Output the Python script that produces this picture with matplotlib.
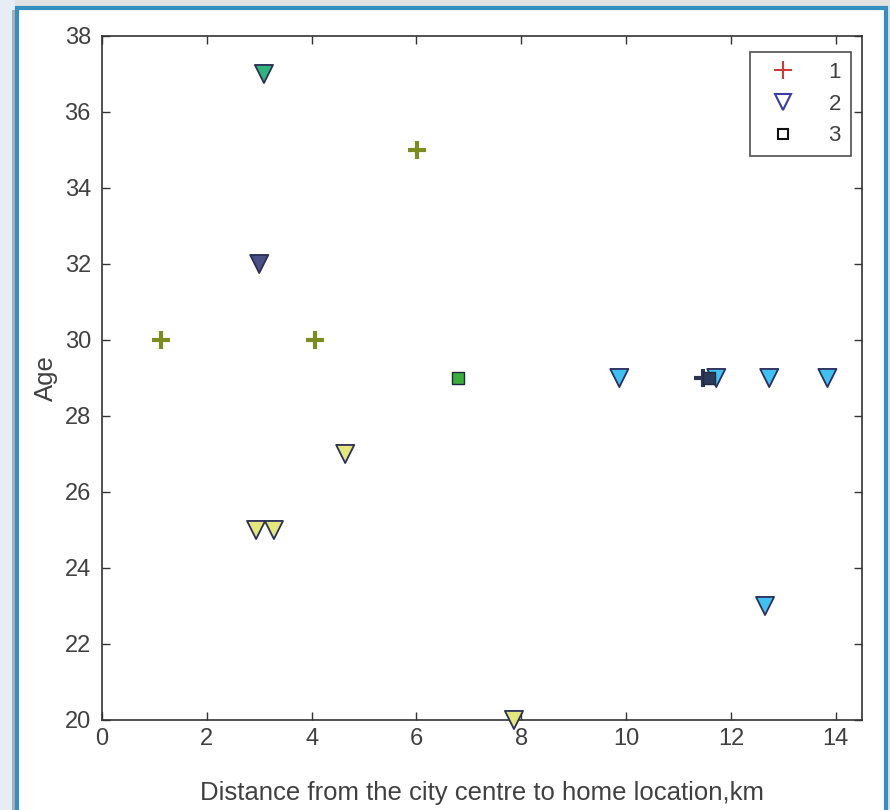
import numpy as np
import matplotlib.pyplot as plt
from matplotlib.lines import Line2D
from matplotlib.patches import Rectangle

plt.rcParams['font.family'] = ['Liberation Sans', 'DejaVu Sans']

# group 1 (+)
g1_x = [1.13, 4.06, 6.01, 11.47]
g1_y = [30, 30, 35, 29]
g1_c = ['#7d8c1e', '#7d8c1e', '#7d8c1e', '#2c3450']

# group 2 (triangles)
g2_x = [3.09, 3.0, 2.94, 3.28, 4.64, 7.86, 9.87, 11.72, 12.73, 13.84, 12.65]
g2_y = [37, 32, 25, 25, 27, 20, 29, 29, 29, 29, 23]
g2_c = ['#2fb57c', '#4a4f86', '#e4e77a', '#e4e77a', '#e4e77a', '#e4e77a',
        '#3fc2f2', '#3fc2f2', '#3fc2f2', '#3fc2f2', '#3fc2f2']

# group 3 (squares)
g3_x = [6.79, 11.58]
g3_y = [29, 29]
g3_c = ['#3aae3a', '#2c3a5a']

labels = ['1', '2', '3']

fig = plt.figure(figsize=(8.9, 8.1), dpi=100)
fig.patch.set_facecolor('#e2e2e2')

# bluish shadow on the left, then the white card with a blue border
fig.patches.append(Rectangle((0, 0), 15/890, 1, transform=fig.transFigure,
                             facecolor='#e6edf4', edgecolor='none', zorder=-12))
fig.patches.append(Rectangle((12/890, 0), 4/890, 1 - 10/810, transform=fig.transFigure,
                             facecolor='#a9b0b8', edgecolor='none', zorder=-11))
card = Rectangle((17/890, -0.02), (886-17)/890, 1.02 - 8/810,
                 transform=fig.transFigure, facecolor='white',
                 edgecolor='#3590c2', linewidth=3, zorder=-10)
fig.patches.append(card)

ax = fig.add_axes([102/890, 1 - 720/810, (862-102)/890, (720-36)/810])
ax.set_zorder(1)

for x, y, c in zip(g1_x, g1_y, g1_c):
    ax.plot(x, y, marker='+', color=c, markersize=13, mew=3, ls='none', zorder=3)
ax.scatter(g2_x, g2_y, marker='v', s=170, c=g2_c, edgecolors='#2b2f5a',
           linewidths=1.3, zorder=3, clip_on=False)
ax.scatter(g3_x, g3_y, marker='s', s=75, c=g3_c, edgecolors='#1f2a40',
           linewidths=1.0, zorder=4)

ax.set_xlim(0, 14.5)
ax.set_ylim(20, 38)
ax.set_xticks(np.arange(0, 15, 2))
ax.set_yticks(np.arange(20, 39, 2))
ax.tick_params(direction='in', top=True, right=True, length=6, width=1,
               color='#333333', labelcolor='#404040', labelsize=17)
ax.tick_params(axis='x', pad=6)
ax.tick_params(axis='y', pad=8)
for s in ax.spines.values():
    s.set_color('#333333')
    s.set_linewidth(1.2)

ax.set_xlabel('Distance from the city centre to home location,km',
              fontsize=18.5, color='#404040', labelpad=22)
ax.set_ylabel('Age', fontsize=18.5, color='#404040', labelpad=5)

handles = [
    Line2D([], [], marker='+', color='#c83c3c', ls='none', markersize=13, mew=1.5),
    Line2D([], [], marker='v', color='#3b3ba8', mfc='none', ls='none', markersize=11, mew=1.5),
    Line2D([], [], marker='s', color='#111111', mfc='none', ls='none', markersize=7, mew=1.5),
]
leg = ax.legend(handles, labels, loc='upper right',
                bbox_to_anchor=((851-102)/760, (720-52)/684), borderaxespad=0,
                fontsize=16, frameon=True, fancybox=False, edgecolor='#222222',
                handlelength=2.1, handletextpad=1.0, labelspacing=0.48,
                borderpad=0.45)
leg.get_frame().set_linewidth(1.2)
for t in leg.get_texts():
    t.set_color('#404040')

fig.savefig('out.png', dpi=100, facecolor=fig.get_facecolor())
